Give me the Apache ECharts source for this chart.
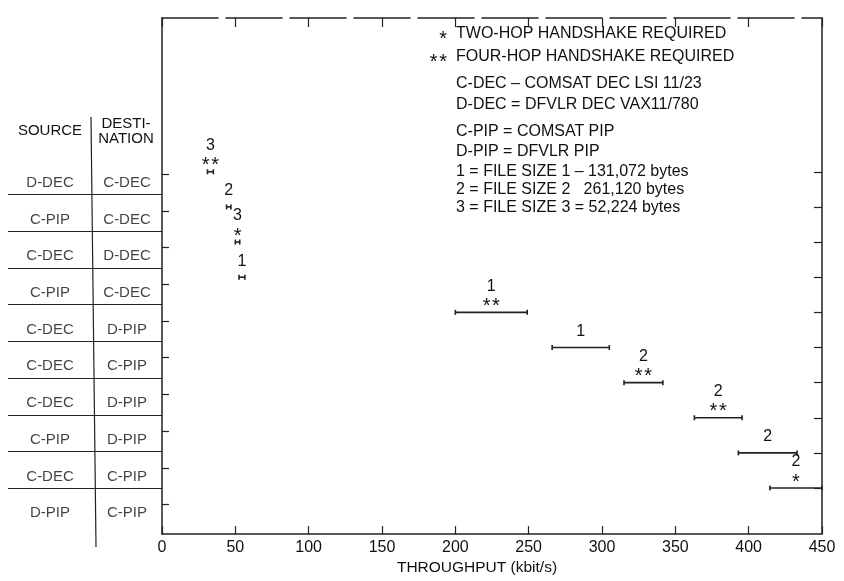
<!DOCTYPE html>
<html><head><meta charset="utf-8">
<script src="https://cdn.jsdelivr.net/npm/echarts@6/dist/echarts.min.js"></script>
<style>html,body{margin:0;padding:0;background:#fff}#c{width:844px;height:581px}</style>
</head><body><div id="c"></div>
<script>
// ---- data ----
const sources = ['D-DEC','C-PIP','C-DEC','C-PIP','C-DEC','C-DEC','C-DEC','C-PIP','C-DEC','D-PIP'];
const destinations = ['C-DEC','C-DEC','D-DEC','C-DEC','D-PIP','C-PIP','D-PIP','D-PIP','C-PIP','C-PIP'];
const lowValues  = [31, 44, 50, 52.5, 200, 266, 315, 363, 393, 414.5];
const highValues = [35, 47, 53, 56.5, 249, 305, 341.5, 395.5, 433, 450];
const fileSizes  = ['3','2','3','1','1','1','2','2','2','2'];
const handshakes = ['**','','*','','**','','**','**','','*'];
const xTickValues = [0,50,100,150,200,250,300,350,400,450];
const legendMarks = ['*','**','','','','','','',''];
const legendLines = ['TWO-HOP HANDSHAKE REQUIRED','FOUR-HOP HANDSHAKE REQUIRED','C-DEC \u2013 COMSAT DEC LSI 11/23','D-DEC = DFVLR DEC VAX11/780','C-PIP = COMSAT PIP','D-PIP = DFVLR PIP','1 = FILE SIZE 1 \u2013 131,072 bytes','2 = FILE SIZE 2   261,120 bytes','3 = FILE SIZE 3 = 52,224 bytes'];

const FONT = "'Liberation Sans', Arial, Helvetica, sans-serif";
const INK = '#111';
const rows = sources.map((_, i) => i + 1);

const chart = echarts.init(document.getElementById('c'));

const lineSt = {color: '#222', width: 1.5};
const legendY = [35, 58, 85, 106, 133, 153, 173, 191, 209];
const graphics = [];
legendLines.forEach((t, i) => {
  graphics.push({type: 'text', left: 456, top: legendY[i] - 9, silent: true,
    style: {text: t, font: '16px ' + FONT, fill: INK}});
  if (legendMarks[i]) {
    graphics.push({type: 'text', x: 447, y: legendY[i] + 4, silent: true,
      style: {text: legendMarks[i].split('').join('\u200a'), font: '20px ' + FONT, fill: INK, align: 'right', verticalAlign: 'middle'}});
  }
});
// table header + divider
graphics.push({type: 'text', x: 50, y: 131, silent: true, style: {text: 'SOURCE', font: '15px ' + FONT, fill: INK, align: 'center', verticalAlign: 'middle'}});
graphics.push({type: 'text', x: 126, y: 124, silent: true, style: {text: 'DESTI-', font: '15px ' + FONT, fill: INK, align: 'center', verticalAlign: 'middle'}});
graphics.push({type: 'text', x: 126, y: 139, silent: true, style: {text: 'NATION', font: '15px ' + FONT, fill: INK, align: 'center', verticalAlign: 'middle'}});
graphics.push({type: 'line', silent: true, shape: {x1: 91, y1: 117, x2: 96, y2: 547}, style: {stroke: '#222', lineWidth: 1.2}});

const option = {
  backgroundColor: '#fff',
  animation: false,
  grid: [
    {left: 162, right: 22, top: 18, bottom: 43},
    {left: 8, right: 682, top: 18, bottom: 43}
  ],
  xAxis: [
    {gridIndex: 0, type: 'value', min: 0, max: 450, interval: 50, position: 'bottom',
     axisLine: {show: true, onZero: false, lineStyle: lineSt},
     axisTick: {show: true, inside: true, length: 8, lineStyle: {color: '#222', width: 1.2}},
     axisLabel: {color: INK, fontSize: 16, fontFamily: FONT, margin: 5,
                 formatter: v => xTickValues.includes(v) ? String(v) : ''},
     splitLine: {show: false},
     name: 'THROUGHPUT (kbit/s)', nameLocation: 'middle', nameGap: 25,
     nameTextStyle: {color: INK, fontSize: 15.5, fontFamily: FONT, padding: [0, 30, 0, 0]}},
    {gridIndex: 0, type: 'value', min: 0, max: 450, interval: 50, position: 'top',
     axisLine: {show: true, onZero: false, lineStyle: {color: '#222', width: 1.5, type: [56, 8]}},
     axisTick: {show: true, inside: true, length: 9, lineStyle: {color: '#222', width: 1.2}},
     axisLabel: {show: false}, splitLine: {show: false}},
    {gridIndex: 1, type: 'value', min: 0, max: 1, show: false}
  ],
  yAxis: [
    {gridIndex: 0, type: 'value', inverse: true, min: -3.375, max: 11.31, position: 'left',
     axisLine: {show: true, onZero: false, lineStyle: lineSt},
     axisTick: {show: false}, axisLabel: {show: false}, splitLine: {show: false}},
    {gridIndex: 0, type: 'value', inverse: true, min: -3.375, max: 11.31, position: 'right',
     axisLine: {show: true, onZero: false, lineStyle: lineSt},
     axisTick: {show: true, inside: true, length: 8, customValues: rows, lineStyle: {color: '#222', width: 1.2}},
     axisLabel: {show: false}, splitLine: {show: false}},
    {gridIndex: 1, type: 'value', inverse: true, min: -3.481, max: 10.672, position: 'right',
     axisLine: {show: false, onZero: false},
     axisTick: {show: true, inside: false, length: 7, customValues: rows.map(r => r - 0.234), lineStyle: {color: '#222', width: 1.2}},
     axisLabel: {show: false}, splitLine: {show: false}}
  ],
  series: [
    {type: 'scatter', xAxisIndex: 2, yAxisIndex: 2, silent: true, symbolSize: 1,
     itemStyle: {color: 'rgba(0,0,0,0)'},
     data: sources.map((s, i) => ({name: s, value: [0.273, rows[i]]})),
     label: {show: true, position: 'inside', formatter: p => p.name, color: INK, fontSize: 15, fontFamily: FONT},
     markLine: {silent: true, symbol: ['none', 'none'], label: {show: false},
       lineStyle: {color: '#222', width: 1.2, type: 'solid'},
       data: rows.slice(0, -1).map(r => ({yAxis: r + 0.32}))}},
    {type: 'scatter', xAxisIndex: 2, yAxisIndex: 2, silent: true, symbolSize: 1,
     itemStyle: {color: 'rgba(0,0,0,0)'},
     data: destinations.map((s, i) => ({name: s, value: [0.773, rows[i]]})),
     label: {show: true, position: 'inside', formatter: p => p.name, color: INK, fontSize: 15, fontFamily: FONT}},
    {type: 'custom', xAxisIndex: 0, yAxisIndex: 0, silent: true, clip: false,
     data: rows.map((r, i) => [lowValues[i], highValues[i], r, i]),
     renderItem: (params, api) => {
       const i = api.value(3);
       const a = api.coord([api.value(0), api.value(2)]);
       const b = api.coord([api.value(1), api.value(2)]);
       const st = {stroke: '#222', lineWidth: 1.6};
       const mid = (a[0] + b[0]) / 2;
       const hs = handshakes[i];
       const ch = [
         {type: 'line', shape: {x1: a[0], y1: a[1], x2: b[0], y2: b[1]}, style: st},
         {type: 'line', shape: {x1: a[0], y1: a[1] - 2.5, x2: a[0], y2: a[1] + 2.5}, style: st},
         {type: 'line', shape: {x1: b[0], y1: b[1] - 2.5, x2: b[0], y2: b[1] + 2.5}, style: st},
         {type: 'text', x: mid, y: a[1] - (hs ? 26 : 16),
          style: {text: fileSizes[i], font: '16px ' + FONT, fill: INK, align: 'center', verticalAlign: 'middle'}}
       ];
       if (hs) ch.push({type: 'text', x: mid, y: a[1] - 6,
          style: {text: hs.split('').join('\u200a'), font: '20px ' + FONT, fill: INK, align: 'center', verticalAlign: 'middle'}});
       return {type: 'group', children: ch};
     }}
  ],
  graphic: graphics
};
chart.setOption(option);
</script></body></html>
